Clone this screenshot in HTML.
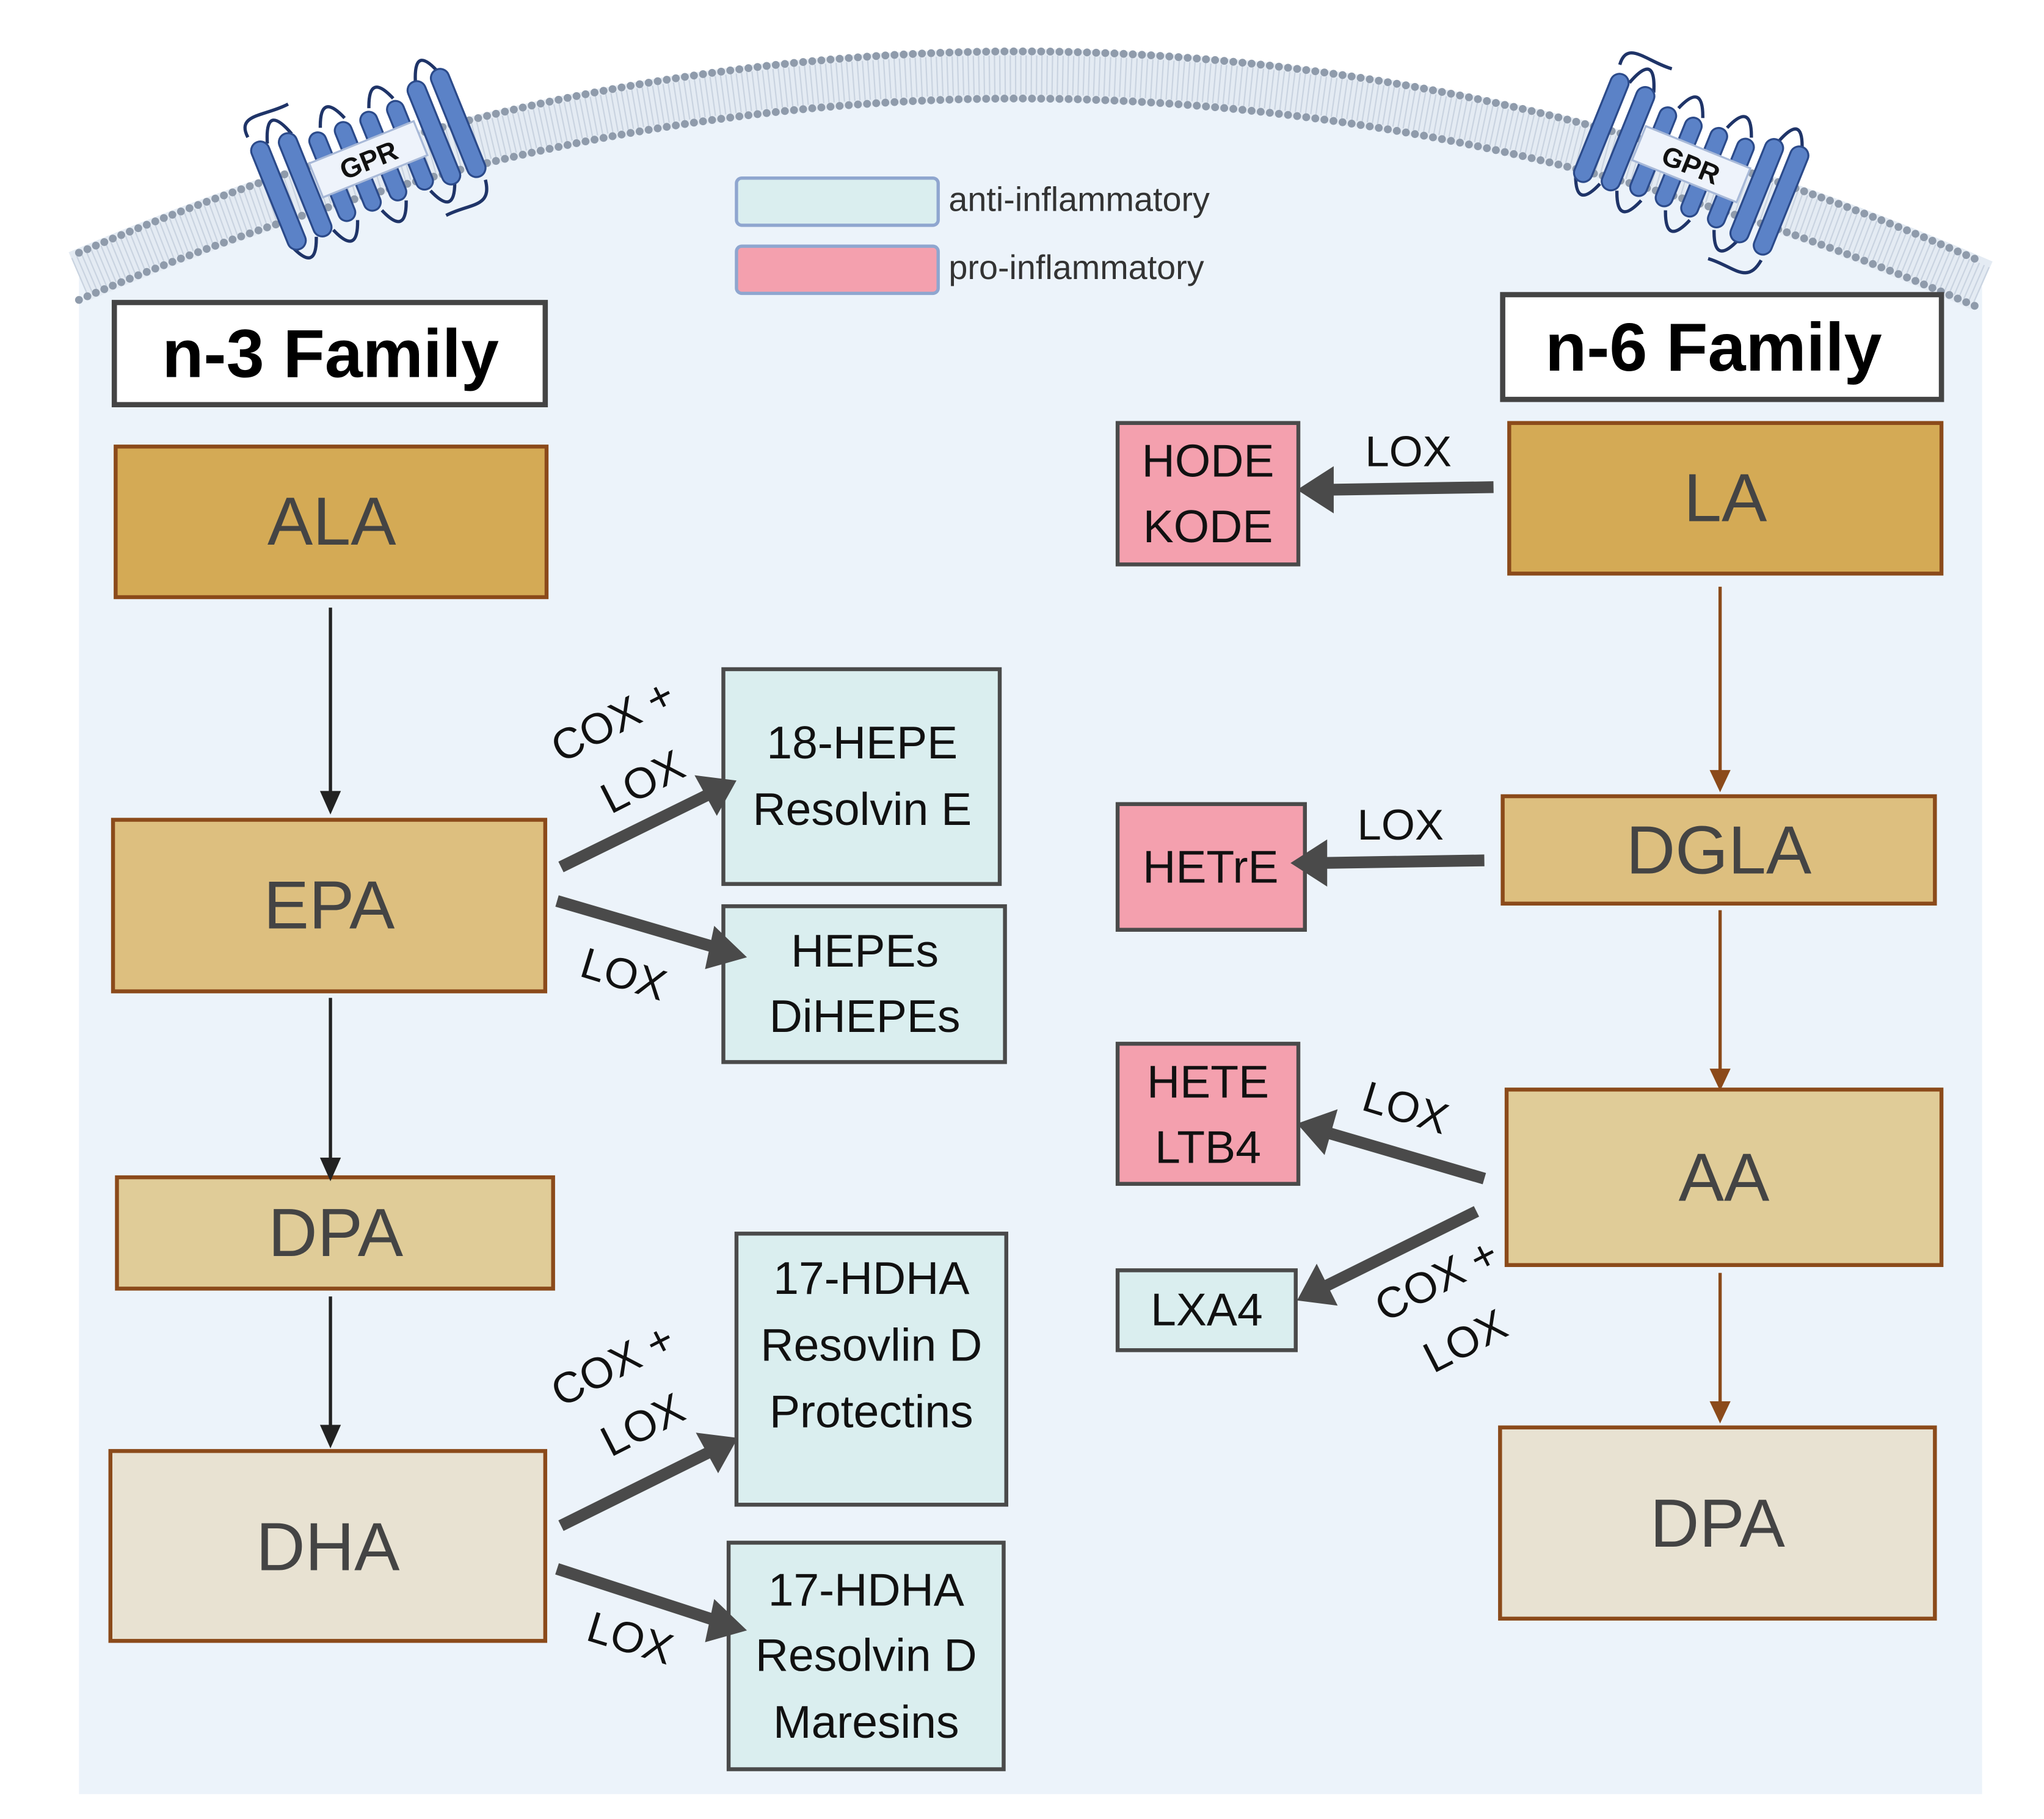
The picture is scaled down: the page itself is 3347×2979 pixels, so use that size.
<!DOCTYPE html>
<html><head><meta charset="utf-8"><style>
html,body{margin:0;padding:0;background:#fff;}
svg{display:block;}
text{font-family:"Liberation Sans",sans-serif;}
</style></head><body>
<svg width="3347" height="2979" viewBox="0 0 1560 1389" xmlns="http://www.w3.org/2000/svg">
<defs>
<g id="gpr">
  <path d="M-78,-50 C-80,-70 -60,-60 -40,-62" fill="none" stroke="#1f3468" stroke-width="2.5"/>
  <path d="M40,62 C60,60 75,70 78,48" fill="none" stroke="#1f3468" stroke-width="2.5"/>
  <path d="M-66,-40 Q-56,-70 -46,-40 M-24,-36 Q-14,-62 -4,-36 M16,-36 Q26,-62 36,-36 M56,-40 Q66,-70 76,-40" fill="none" stroke="#1f3468" stroke-width="2.5"/>
  <path d="M-78,40 Q-68,66 -58,40 M-44,40 Q-34,66 -24,40 M-4,40 Q6,66 16,40 M36,40 Q46,66 56,40" fill="none" stroke="#1f3468" stroke-width="2.5"/>
  <g fill="#5b82c7" stroke="#2b4a8a" stroke-width="1.5">
    <rect x="-80" y="-44" width="14" height="88" rx="7"/>
    <rect x="-58" y="-42" width="14" height="84" rx="7"/>
    <rect x="-36" y="-34" width="13" height="72" rx="6.5"/>
    <rect x="-15" y="-34" width="13" height="72" rx="6.5"/>
    <rect x="6" y="-34" width="13" height="72" rx="6.5"/>
    <rect x="28" y="-34" width="13" height="72" rx="6.5"/>
    <rect x="48" y="-42" width="14" height="84" rx="7"/>
    <rect x="68" y="-44" width="14" height="88" rx="7"/>
  </g>
  <rect x="-42" y="-14" width="86" height="28" fill="#eef3fb" stroke="#a8b9d8" stroke-width="1.5"/>
  <text x="1" y="8" font-size="21" font-weight="bold" text-anchor="middle" fill="#111">GPR</text>
</g>
</defs>
<!-- cell interior -->
<path d="M60,212 Q786,-100 1513,219 L1513,1370 L60,1370 Z" fill="#ecf3fa"/>
<!-- membrane -->
<path d="M60,211 Q786,-100 1513,218" fill="none" stroke="#e4ebf3" stroke-width="40"/>
<path d="M60,211 Q786,-100 1513,218" fill="none" stroke="#c9d3e0" stroke-width="30" stroke-dasharray="1 3"/>
<path d="M60,193 Q786,-118 1513,200" fill="none" stroke="#8f9bab" stroke-width="6" stroke-linecap="round" stroke-dasharray="0 7"/>
<path d="M60,229 Q786,-82 1513,236" fill="none" stroke="#8f9bab" stroke-width="6" stroke-linecap="round" stroke-dasharray="0 7"/>
<use href="#gpr" transform="translate(280,122) rotate(-22)"/>
<use href="#gpr" transform="translate(1290,125) rotate(22)"/>

<!-- legend -->
<rect x="562" y="136" width="154" height="36" rx="4" fill="#daeeef" stroke="#8fa6cf" stroke-width="2.5"/>
<rect x="562" y="188" width="154" height="36" rx="4" fill="#f4a0ae" stroke="#8fa6cf" stroke-width="2.5"/>
<text x="724" y="161" font-size="26" fill="#333">anti-inflammatory</text>
<text x="724" y="213" font-size="26" fill="#333">pro-inflammatory</text>

<!-- n-3 -->
<rect x="87" y="231" width="329" height="78" fill="#fff" stroke="#444" stroke-width="4"/>
<text x="252" y="288" font-size="52" font-weight="bold" text-anchor="middle" fill="#000">n-3 Family</text>
<g stroke="#8b4a1a" stroke-width="3">
<rect x="88" y="341" width="329" height="115" fill="#d4aa55"/>
<rect x="86" y="626" width="330" height="131" fill="#ddbf7f"/>
<rect x="89" y="899" width="333" height="85" fill="#e0cc98"/>
<rect x="84" y="1108" width="332" height="145" fill="#e8e2d2"/>
<rect x="1152" y="323" width="330" height="115" fill="#d4aa55"/>
<rect x="1147" y="608" width="330" height="82" fill="#ddbf7f"/>
<rect x="1150" y="832" width="332" height="134" fill="#e0cc98"/>
<rect x="1145" y="1090" width="332" height="146" fill="#e8e2d2"/>
</g>
<g font-size="52" fill="#444" text-anchor="middle">
<text x="253" y="416">ALA</text>
<text x="251" y="709">EPA</text>
<text x="256" y="959">DPA</text>
<text x="250" y="1199">DHA</text>
<text x="1317" y="398">LA</text>
<text x="1312" y="667">DGLA</text>
<text x="1316" y="917">AA</text>
<text x="1311" y="1181">DPA</text>
</g>
<!-- n-6 header -->
<rect x="1147" y="225" width="335" height="80" fill="#fff" stroke="#444" stroke-width="4"/>
<text x="1308" y="283" font-size="52" font-weight="bold" text-anchor="middle" fill="#000">n-6 Family</text>

<!-- product boxes -->
<g stroke="#4a4a4a" stroke-width="3">
<rect x="552" y="511" width="211" height="164" fill="#daeeef"/>
<rect x="552" y="692" width="215" height="119" fill="#daeeef"/>
<rect x="562" y="942" width="206" height="207" fill="#daeeef"/>
<rect x="556" y="1178" width="210" height="173" fill="#daeeef"/>
<rect x="853" y="323" width="138" height="108" fill="#f4a0ae"/>
<rect x="853" y="614" width="143" height="96" fill="#f4a0ae"/>
<rect x="853" y="797" width="138" height="107" fill="#f4a0ae"/>
<rect x="853" y="970" width="136" height="61" fill="#daeeef"/>
</g>
<g font-size="35" fill="#111" text-anchor="middle">
<text x="658" y="579">18-HEPE</text>
<text x="658" y="630">Resolvin E</text>
<text x="660" y="738">HEPEs</text>
<text x="660" y="788">DiHEPEs</text>
<text x="665" y="988">17-HDHA</text>
<text x="665" y="1039">Resovlin D</text>
<text x="665" y="1090">Protectins</text>
<text x="661" y="1226">17-HDHA</text>
<text x="661" y="1276">Resolvin D</text>
<text x="661" y="1327">Maresins</text>
<text x="922" y="364">HODE</text>
<text x="922" y="414">KODE</text>
<text x="924" y="674">HETrE</text>
<text x="922" y="838">HETE</text>
<text x="922" y="888">LTB4</text>
<text x="921" y="1012">LXA4</text>
</g>

<!-- thin arrows -->
<g stroke="#222" stroke-width="2.5">
<line x1="252" y1="464" x2="252" y2="606"/>
<line x1="252" y1="762" x2="252" y2="886"/>
<line x1="252" y1="990" x2="252" y2="1090"/>
</g>
<g fill="#222">
<polygon points="244,604 260,604 252,622"/>
<polygon points="244,884 260,884 252,902"/>
<polygon points="244,1088 260,1088 252,1106"/>
</g>
<g stroke="#8b4a1a" stroke-width="2.5">
<line x1="1313" y1="448" x2="1313" y2="590"/>
<line x1="1313" y1="695" x2="1313" y2="818"/>
<line x1="1313" y1="972" x2="1313" y2="1072"/>
</g>
<g fill="#8b4a1a">
<polygon points="1305,588 1321,588 1313,605"/>
<polygon points="1305,816 1321,816 1313,833"/>
<polygon points="1305,1070 1321,1070 1313,1087"/>
</g>

<!-- thick arrows -->
<g stroke="#4a4a4a" stroke-width="9" stroke-linecap="butt">
<line x1="428" y1="662" x2="540" y2="607"/>
<line x1="425" y1="688" x2="548" y2="724"/>
<line x1="428" y1="1165" x2="541" y2="1109"/>
<line x1="425" y1="1198" x2="548" y2="1238"/>
<line x1="1140" y1="372" x2="1012" y2="374"/>
<line x1="1133" y1="657" x2="1006" y2="659"/>
<line x1="1133" y1="900" x2="1010" y2="864"/>
<line x1="1127" y1="925" x2="1010" y2="983"/>
</g>
<g fill="#4a4a4a">
<polygon points="562,596 530,592 547,623"/>
<polygon points="570,731 545,707 538,740"/>
<polygon points="563,1098 531,1094 548,1125"/>
<polygon points="570,1245 545,1221 538,1254"/>
<polygon points="990,374 1018,356 1018,392"/>
<polygon points="985,659 1013,641 1013,677"/>
<polygon points="990,858 1021,847 1011,882"/>
<polygon points="990,993 1005,965 1021,997"/>
</g>

<!-- enzyme labels -->
<g font-size="33" fill="#111">
<text transform="translate(428,583) rotate(-27)">COX +</text>
<text transform="translate(466,622) rotate(-27)">LOX</text>
<text transform="translate(441,745) rotate(17)">LOX</text>
<text transform="translate(428,1075) rotate(-27)">COX +</text>
<text transform="translate(466,1113) rotate(-27)">LOX</text>
<text transform="translate(446,1252) rotate(17)">LOX</text>
<text x="1042" y="356">LOX</text>
<text x="1036" y="641">LOX</text>
<text transform="translate(1038,847) rotate(17)">LOX</text>
<text transform="translate(1057,1010) rotate(-27)">COX +</text>
<text transform="translate(1094,1049) rotate(-27)">LOX</text>
</g>
</svg>
</body></html>
